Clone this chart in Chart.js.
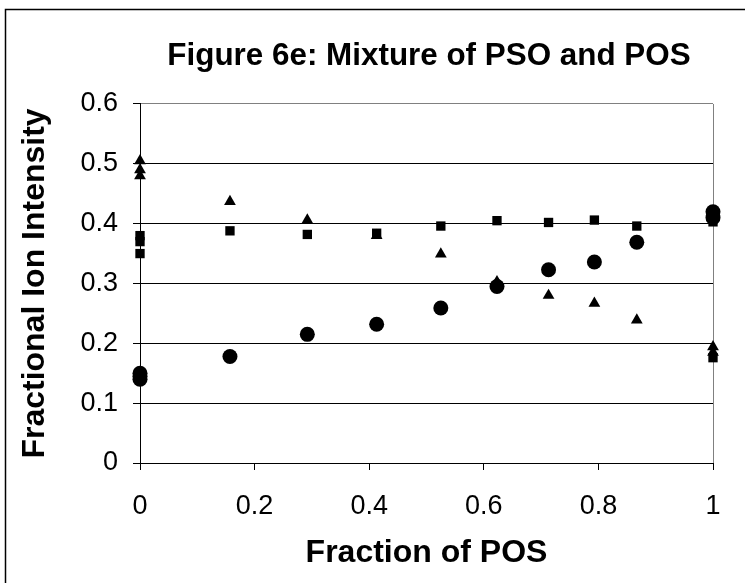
<!DOCTYPE html>
<html>
<head>
<meta charset="utf-8">
<script src="https://cdn.jsdelivr.net/npm/chart.js@4/dist/chart.umd.min.js"></script>
<style>
  html, body { margin: 0; padding: 0; background: #fff; }
  canvas { display: block; }
</style>
</head>
<body>
<canvas id="chart" width="745" height="583"></canvas>
<script>
// values
const fractionPOS = [0, 0, 0, 0.157, 0.292, 0.413, 0.525, 0.623, 0.713, 0.793, 0.867, 1, 1];
const circleSeries = [0.15, 0.145, 0.14, 0.178, 0.215, 0.232, 0.259, 0.295, 0.323, 0.336, 0.369, 0.42, 0.41];
const squareSeries = [0.38, 0.37, 0.35, 0.388, 0.382, 0.384, 0.396, 0.405, 0.402, 0.406, 0.396, 0.403, 0.176];
const triangleSeries = [0.505, 0.49, 0.48, 0.437, 0.406, 0.38, 0.349, 0.303, 0.28, 0.267, 0.239, 0.194, 0.185];
const xTicks = [0, 0.2, 0.4, 0.6, 0.8, 1];
const yTicks = [0, 0.1, 0.2, 0.3, 0.4, 0.5, 0.6];

const toPoints = (ys) => ys.map((y, i) => ({ x: fractionPOS[i], y: y }));
const fontFamily = "'Liberation Sans', Arial, sans-serif";

// outer chart border (cut off at right and bottom like the source)
const frame = {
  id: "frame",
  afterLayout(chart) {
    // centre the title over the plot rather than the whole canvas
    const t = chart.titleBlock;
    if (t) {
      t.left = 145;
      t.right = 713;
      t.width = t.right - t.left;
    }
  },
  afterDraw(chart) {
    const ctx = chart.ctx;
    ctx.save();
    ctx.strokeStyle = "#000";
    ctx.lineWidth = 1.5;
    ctx.beginPath();
    ctx.moveTo(5.5, 600);
    ctx.lineTo(5.5, 9.5);
    ctx.lineTo(760, 9.5);
    ctx.stroke();
    ctx.restore();
  }
};

const dataset = (data, style, radius) => ({
  data: toPoints(data),
  pointStyle: style,
  pointRadius: radius,
  pointHoverRadius: radius,
  backgroundColor: "#000",
  borderColor: "#000",
  borderWidth: 0,
  showLine: false,
  clip: false
});

new Chart(document.getElementById("chart"), {
  type: "scatter",
  data: {
    datasets: [
      dataset(circleSeries, "circle", 7.5),
      dataset(squareSeries, "rect", 6.6),
      dataset(triangleSeries, "triangle", 6.8)
    ]
  },
  options: {
    responsive: false,
    animation: false,
    devicePixelRatio: 1,
    layout: { padding: { left: 0, right: 32, top: 38, bottom: 0 } },
    plugins: {
      legend: { display: false },
      tooltip: { enabled: false },
      title: {
        display: true,
        text: "Figure 6e: Mixture of PSO and POS",
        color: "#000",
        font: { family: fontFamily, size: 31.4, weight: "bold", lineHeight: 1.2 },
        padding: { top: 0, bottom: 28.3 }
      }
    },
    scales: {
      x: {
        type: "linear",
        min: 0,
        max: 1,
        afterFit: (s) => { s.height = 120; },
        afterBuildTicks: (s) => { s.ticks = xTicks.map((v) => ({ value: v })); },
        ticks: {
          color: "#000",
          font: { family: fontFamily, size: 27 },
          padding: 20,
          maxRotation: 0,
          callback: (v) => (v === 0 || v === 1 ? String(v) : v.toFixed(1))
        },
        grid: {
          drawOnChartArea: true,
          color: (c) => (c.tick && c.tick.value === 1 ? "#808080" : "rgba(0,0,0,0)"),
          tickColor: "#000",
          tickLength: 7,
          lineWidth: 1
        },
        border: { display: true, color: "#000", width: 1 },
        title: {
          display: true,
          text: "Fraction of POS",
          color: "#000",
          font: { family: fontFamily, size: 32, weight: "bold", lineHeight: 1.2 },
          padding: { top: 0, bottom: 11 }
        }
      },
      y: {
        type: "linear",
        min: 0,
        max: 0.6,
        afterFit: (s) => { s.width = 140; },
        afterBuildTicks: (s) => { s.ticks = yTicks.map((v) => ({ value: v })); },
        ticks: {
          color: "#000",
          font: { family: fontFamily, size: 27 },
          padding: 15,
          callback: (v) => (v === 0 ? "0" : v.toFixed(1))
        },
        grid: {
          color: (c) => (c.tick && c.tick.value === 0.6 ? "#808080" : "#000"),
          tickColor: "#000",
          tickLength: 7,
          lineWidth: 1
        },
        border: { display: true, color: "#000", width: 1 },
        title: {
          display: true,
          text: "Fractional Ion Intensity",
          color: "#000",
          font: { family: fontFamily, size: 32, weight: "bold", lineHeight: 1.2 },
          padding: { top: 16, bottom: 0 }
        }
      }
    }
  },
  plugins: [frame]
});
</script>
</body>
</html>
